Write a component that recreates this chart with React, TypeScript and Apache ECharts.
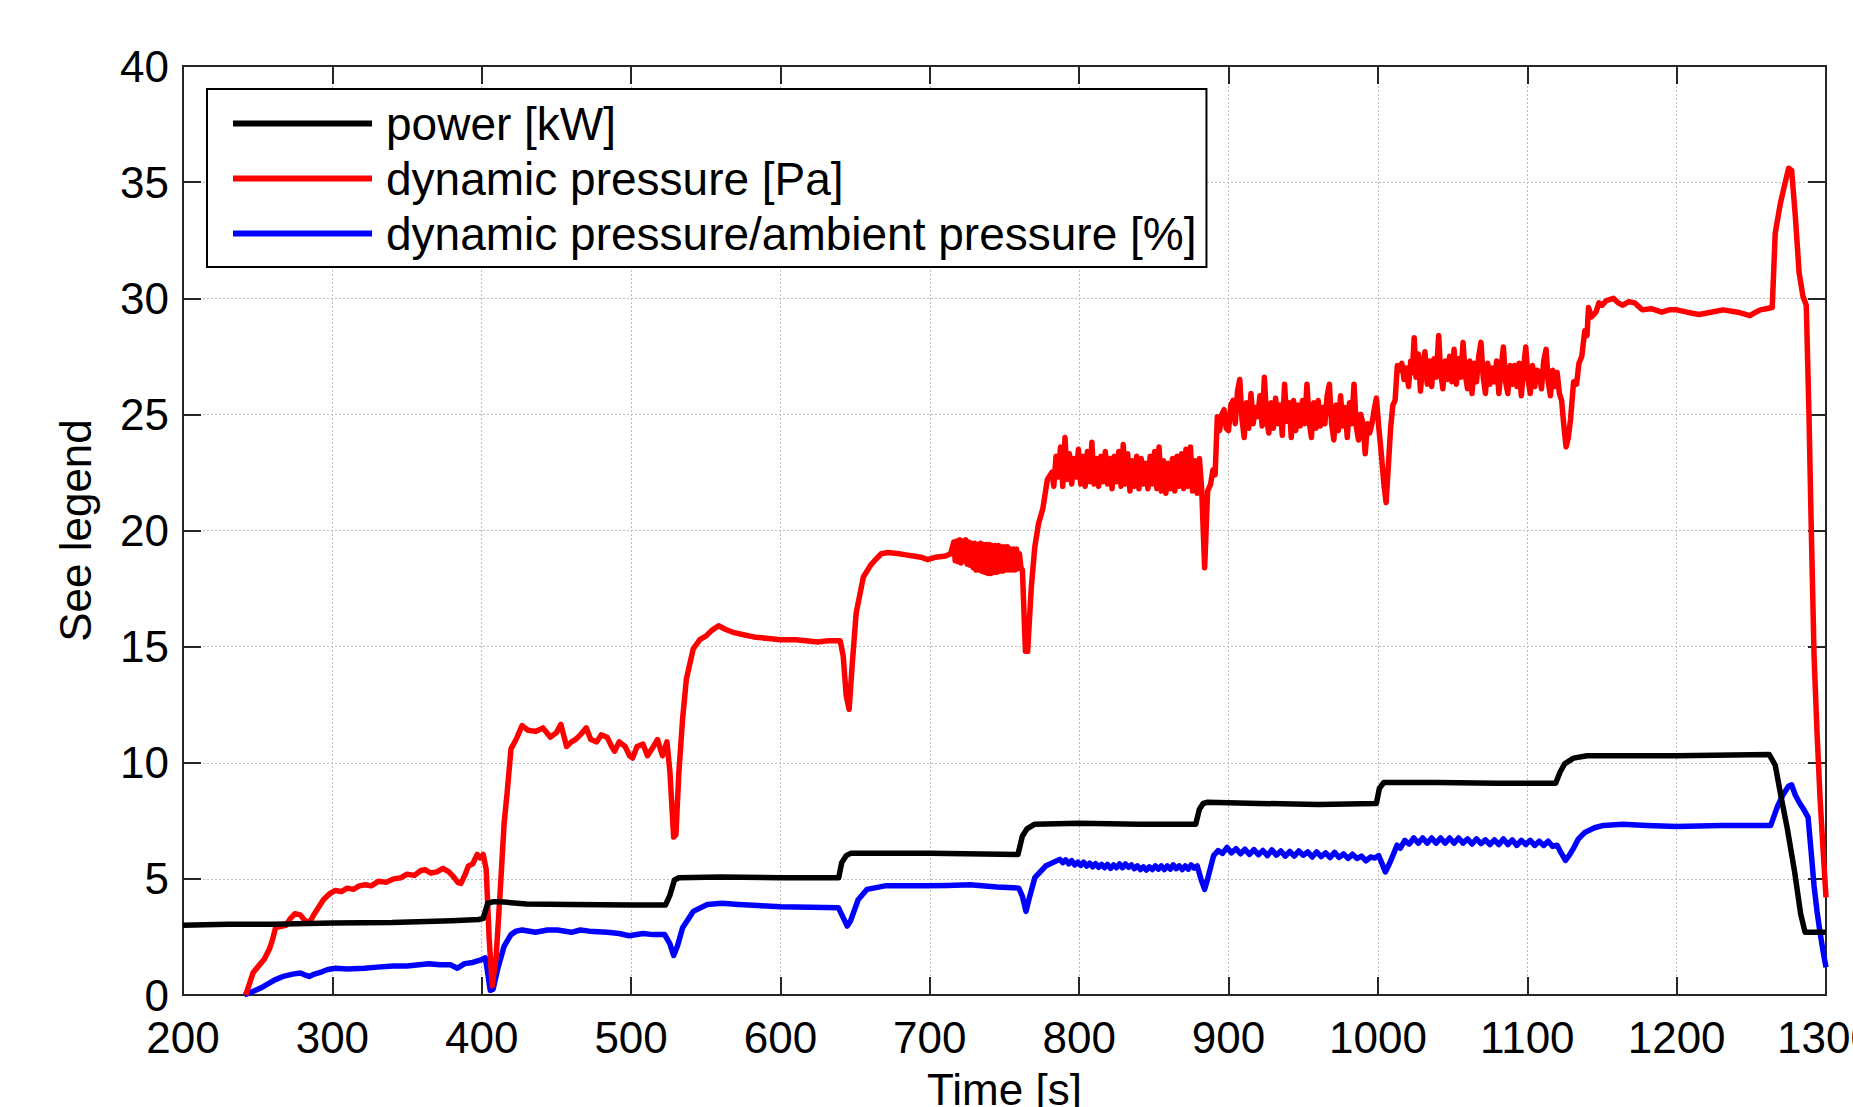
import React, { useEffect, useRef } from "react";
import * as echarts from "echarts";

const seriesNames = [
  "power [kW]",
  "dynamic pressure [Pa]",
  "dynamic pressure/ambient pressure [%]",
];
const seriesColors = ["#000000", "#ff0000", "#0000ff"];

const powerKW: number[][] = [
  [200, 3.0], [230, 3.05], [260, 3.05], [300, 3.1], [340, 3.12], [380, 3.2], [398, 3.25], [401, 3.3],
  [404, 3.95], [408, 4.02], [415, 4.0], [430, 3.92], [460, 3.9], [500, 3.87], [523, 3.87], [526, 4.3],
  [529, 4.95], [532, 5.05], [560, 5.08], [600, 5.05], [639, 5.05], [641, 5.7], [644, 6.0], [647, 6.1],
  [700, 6.1], [759, 6.05], [762, 6.85], [765, 7.15], [770, 7.35], [800, 7.4], [840, 7.35], [878, 7.35],
  [880.5, 8.0], [883, 8.25], [886, 8.3], [920, 8.25], [960, 8.2], [999, 8.25], [1001, 8.9], [1004, 9.15],
  [1040, 9.15], [1080, 9.12], [1119, 9.12], [1122, 9.6], [1125, 9.95], [1131, 10.2], [1140, 10.3],
  [1200, 10.3], [1262, 10.35], [1266, 9.9], [1270, 8.5], [1274, 7.2], [1279, 5.3], [1283, 3.5],
  [1286, 2.7], [1300, 2.7],
];

const dynPressurePa: number[][] = [
  [242, 0], [247, 0.97], [250, 1.2], [254.5, 1.55], [258, 2.0], [260, 2.4], [262, 2.9], [265, 2.95],
  [269, 3.0], [272, 3.3], [275, 3.5], [278.5, 3.45], [281, 3.25], [284.5, 3.1], [288, 3.5], [291, 3.8],
  [294, 4.1], [298, 4.35], [302, 4.5], [306, 4.45], [310, 4.6], [314, 4.55], [318, 4.7], [322, 4.75],
  [326, 4.7], [331, 4.9], [336, 4.85], [341, 5.0], [346, 5.05], [350, 5.2], [355, 5.15], [359, 5.35],
  [362, 5.4], [366, 5.25], [370, 5.3], [374, 5.45], [378, 5.3], [381, 5.1], [384, 4.85], [386, 4.8],
  [389, 5.2], [391, 5.55], [394, 5.65], [397, 6.05], [399, 5.9], [401, 6.05], [403, 5.4], [405, 2.4],
  [407, 0.4], [409.6, 1.6], [412.4, 4.5], [415, 7.4], [417, 8.7], [419.6, 10.6], [423, 11.0], [427, 11.6],
  [431, 11.4], [436, 11.35], [441, 11.5], [446, 11.1], [450, 11.3], [453, 11.65], [456.8, 10.7], [460, 10.9],
  [462.8, 11.0], [466, 11.2], [470, 11.5], [473, 11.0], [477, 10.9], [480, 11.2], [484, 11.1], [487, 10.7],
  [489, 10.5], [492, 10.9], [496, 10.7], [499, 10.3], [501, 10.2], [504, 10.7], [508, 10.8], [511, 10.3],
  [514, 10.6], [517.7, 11.0], [521, 10.3], [524, 10.9], [526, 9.6], [528.5, 6.8], [530, 6.9], [532, 9.6],
  [534.5, 11.9], [537, 13.6], [541.6, 14.9], [546, 15.3], [550, 15.45], [554, 15.7], [558.6, 15.9],
  [563, 15.75], [569, 15.6], [576, 15.5], [583.7, 15.4], [592, 15.35], [600, 15.3], [610, 15.3],
  [617, 15.25], [625, 15.2], [632, 15.25], [640, 15.25], [642, 14.6], [644, 12.9], [646, 12.3], [648, 14.2],
  [650.7, 16.45], [655.5, 18.0], [660.3, 18.5], [663, 18.7], [667.5, 19.0], [672, 19.05], [679.4, 19.0],
  [684, 18.95], [689, 18.9], [694, 18.85], [698.6, 18.75], [704, 18.85], [710.5, 18.9], [714, 19.0],
  [716, 19.5], [717, 18.7], [718, 19.55], [719, 18.65], [720, 19.6], [721, 18.6], [722, 19.55], [723, 18.7],
  [724, 19.6], [725, 18.55], [726, 19.5], [727, 18.5], [728, 19.45], [729, 18.4], [730, 19.45], [731, 18.3],
  [732, 19.4], [733, 18.3], [734, 19.45], [735, 18.25], [736, 19.4], [737, 18.2], [738, 19.4], [739, 18.15],
  [740, 19.4], [741, 18.15], [742, 19.35], [743, 18.2], [744, 19.35], [745, 18.2], [746, 19.35], [747, 18.25],
  [748, 19.3], [749, 18.25], [750, 19.3], [751, 18.3], [752, 19.3], [753, 18.3], [754, 19.2], [755, 18.3],
  [756, 19.2], [757, 18.3], [758, 19.2], [759, 18.35], [760, 19.0], [761, 18.4], [762, 18.3],
  [764, 14.8], [765.5, 14.8], [768, 17.6], [770.3, 19.3], [772.8, 20.3], [775.7, 20.95], [778.7, 22.2],
  [781.7, 22.5],
  [783, 21.9], [784.5, 23.2], [786, 22.3], [787.5, 23.6], [789, 21.9], [790.5, 24.0], [792, 22.2],
  [793.5, 23.3], [795, 22.0], [796.5, 23.1], [798, 22.3], [799.5, 23.5], [801, 22.0], [802.5, 23.2],
  [804, 21.9], [805.5, 23.4], [807, 22.1], [808.5, 23.8], [810, 22.0], [811.5, 23.1], [813, 21.9],
  [814.5, 23.2], [816, 22.1], [817.5, 23.4], [819, 22.0], [820.5, 23.1], [822, 21.8], [823.5, 23.2],
  [825, 22.1], [826.5, 23.4], [828, 21.9], [829.5, 23.7], [831, 22.0], [832.5, 23.3], [834, 21.7],
  [835.5, 23.0], [837, 21.9], [838.5, 23.2], [840, 21.8], [841.5, 23.1], [843, 22.0], [844.5, 22.9],
  [846, 21.8], [847.5, 23.2], [849, 22.0], [850.5, 23.4], [852, 21.8], [853.5, 23.6], [855, 21.7],
  [856.5, 23.0], [858, 21.6], [859.5, 22.9], [861, 21.8], [862.5, 23.1], [864, 21.7], [865.5, 23.2],
  [867, 21.9], [868.5, 23.3], [870, 21.8], [871.5, 23.5], [873, 21.9], [874.5, 23.6], [876, 21.7],
  [877.5, 23.0], [879, 21.6], [880.5, 23.1], [882, 21.8], [884, 18.4], [886, 21.7], [888, 22.0],
  [889.5, 22.6], [891, 22.4], [892.5, 24.9], [894, 24.3], [895.5, 25.0], [897, 25.2], [898.5, 24.4],
  [900, 24.3], [901.5, 25.4], [903, 25.6],
  [904.5, 24.6], [906, 26.0], [907.5, 26.5], [909, 24.8], [910.5, 24.0], [912, 25.5], [913.5, 24.4],
  [915, 25.9], [916.5, 24.6], [918, 25.3], [919.5, 24.9], [921, 25.8], [922.5, 24.5], [924, 26.6],
  [925.5, 24.8], [927, 24.2], [928.5, 25.5], [930, 24.4], [931.5, 25.7], [933, 24.6], [934.5, 25.4],
  [936, 24.1], [937.5, 26.3], [939, 24.7], [940.5, 25.5], [942, 24.0], [943.5, 25.6], [945, 24.3],
  [946.5, 25.4], [948, 24.5], [949.5, 25.6], [951, 24.6], [952.5, 26.3], [954, 24.7], [955.5, 24.0],
  [957, 25.5], [958.5, 24.4], [960, 25.6], [961.5, 24.5], [963, 25.3], [964.5, 24.6], [966, 25.8],
  [967.5, 26.3], [969, 24.6], [970.5, 23.9], [972, 25.4], [973.5, 24.3], [975, 25.8], [976.5, 24.5],
  [978, 25.3], [979.5, 24.0], [981, 25.5], [982.5, 24.6], [984, 26.3], [985.5, 24.5], [987, 23.9],
  [988.5, 25.0], [990, 24.6], [991.5, 23.3], [993, 24.6], [994.5, 24.2], [996, 24.6], [997.5, 25.2],
  [999, 25.7], [1000.5, 24.5], [1002, 23.5], [1004, 22.0], [1005.5, 21.2], [1007, 22.8], [1008.5, 24.4],
  [1010, 25.4], [1011.5, 25.6], [1013, 27.1], [1014.5, 26.9], [1016, 27.2], [1017.5, 26.5], [1019, 27.0],
  [1020.5, 26.2], [1022, 27.3], [1023, 26.8], [1024.3, 28.3],
  [1025.5, 26.6], [1027, 27.6], [1028.5, 26.0], [1030, 27.2], [1031.5, 27.7], [1033, 26.3], [1034.5, 27.3],
  [1036, 26.2], [1037.5, 27.4], [1039, 26.6], [1040.7, 28.4], [1042, 26.8], [1043.5, 26.1], [1045, 27.3],
  [1046.5, 26.5], [1048, 27.5], [1049.5, 26.4], [1051, 27.8], [1052.5, 26.3], [1054, 27.4], [1055.5, 26.6],
  [1057, 28.1], [1058.5, 26.7], [1060, 26.1], [1061.5, 27.3], [1063, 25.9], [1064.5, 27.2], [1066, 26.4],
  [1067.5, 27.5], [1069, 28.1], [1070.5, 26.6], [1072, 25.9], [1073.5, 27.2], [1075, 26.3], [1076.5, 27.0],
  [1078, 26.4], [1079.5, 27.3], [1081, 25.9], [1082.5, 27.0], [1084, 27.9], [1085.5, 26.4], [1087, 25.9],
  [1088.5, 27.1], [1090, 26.3], [1091.5, 27.1], [1093, 26.2], [1094.5, 27.2], [1096, 25.8], [1097.5, 27.0],
  [1099, 27.9], [1100.5, 26.5], [1102, 25.9], [1103.5, 27.1], [1105, 26.2], [1106.5, 26.9], [1108, 26.8],
  [1109.5, 26.1], [1111, 27.3], [1112.6, 27.8], [1114, 26.4], [1115.5, 25.8], [1117, 26.9], [1118.5, 26.2],
  [1120, 26.8], [1121.5, 25.9], [1123, 25.6], [1124.5, 24.5], [1126, 23.6], [1127.5, 24.0], [1129, 24.8],
  [1131, 26.4], [1133, 26.3], [1134.6, 27.2], [1136.5, 27.5], [1138.5, 28.6], [1140, 28.4], [1141, 29.6],
  [1143, 29.2], [1146, 29.4], [1148, 29.8], [1150, 29.7], [1153, 29.9], [1157.7, 30.0], [1161, 29.8],
  [1164, 29.7], [1168, 29.85], [1172, 29.8], [1177, 29.5], [1183, 29.55], [1190, 29.4], [1195, 29.5],
  [1200, 29.5], [1207, 29.4], [1215, 29.3], [1223, 29.4], [1231, 29.5], [1241, 29.4], [1249, 29.25],
  [1253, 29.4], [1256, 29.5], [1260, 29.55], [1264, 29.6], [1266, 32.8], [1269.5, 34.1], [1272, 34.8],
  [1275, 35.6], [1277, 35.5], [1279.5, 33.5], [1282, 31.1], [1284.5, 30.1], [1286.8, 29.7], [1288.6, 25.0],
  [1290, 20.5], [1292, 14.6], [1294, 11.3], [1296, 8.5], [1298, 6.3], [1300, 4.2],
];

const pressureRatioPct: number[][] = [
  [241, 0], [245, 0.1], [252, 0.3], [256, 0.45], [261.5, 0.65], [267, 0.8], [273.5, 0.9], [278.5, 0.95],
  [281, 0.88], [284.5, 0.8], [288, 0.9], [293, 1.0], [297, 1.1], [302, 1.15], [310, 1.12], [321.5, 1.15],
  [330, 1.2], [340.7, 1.25], [350, 1.25], [364.6, 1.35], [372, 1.3], [379, 1.3], [383.7, 1.15],
  [388.5, 1.35], [394, 1.4], [399, 1.5], [402.4, 1.6], [404, 0.95], [405.7, 0.2], [407.6, 0.25],
  [411, 1.2], [415, 2.1], [419.6, 2.6], [423, 2.75], [427, 2.8], [436, 2.7], [444, 2.8], [450.7, 2.8],
  [460, 2.7], [466, 2.8], [472, 2.75], [484, 2.7], [492, 2.65], [498.6, 2.55], [508, 2.65], [515, 2.6],
  [522.5, 2.6], [526, 2.2], [528.5, 1.7], [531, 2.1], [534.5, 2.9], [541.6, 3.6], [551, 3.9],
  [560.8, 3.95], [572, 3.9], [585, 3.85], [600, 3.8], [620, 3.78], [638.8, 3.76], [642, 3.33],
  [644.7, 2.97], [647, 3.2], [652, 4.1], [658, 4.55], [670, 4.7], [685, 4.7], [698.6, 4.7], [712, 4.72],
  [727, 4.75], [745, 4.65], [759.6, 4.6], [762, 4.25], [764.4, 3.6], [766.7, 4.2], [770.3, 5.05],
  [777.5, 5.55],
  [787, 5.84], [789, 5.7], [791, 5.82], [793, 5.65], [795, 5.78], [797, 5.6], [799, 5.72], [801, 5.58],
  [803, 5.72], [805, 5.55], [807, 5.68], [809, 5.52], [811, 5.66], [813, 5.5], [815, 5.62], [817, 5.48],
  [819, 5.62], [821, 5.45], [823, 5.6], [825, 5.48], [827, 5.64], [829, 5.48], [831, 5.64], [833, 5.5],
  [835, 5.6], [837, 5.44], [839, 5.56], [841, 5.4], [843, 5.52], [845, 5.38], [847, 5.52], [849, 5.4],
  [851, 5.56], [853, 5.42], [855, 5.56], [857, 5.4], [859, 5.56], [861, 5.42], [863, 5.6], [865, 5.44],
  [867, 5.56], [869, 5.4], [871, 5.56], [873, 5.42], [875, 5.6], [877, 5.46], [879, 5.56],
  [881.6, 4.98], [884, 4.55], [886, 5.0],
  [890, 6.0], [893, 6.22], [896, 6.1], [899, 6.35], [902, 6.12], [905, 6.3], [908, 6.08], [911, 6.28],
  [914, 6.05], [917, 6.26], [920, 6.04], [923, 6.22], [926, 6.0], [929, 6.25], [932, 6.02], [935, 6.2],
  [938, 5.98], [941, 6.18], [944, 5.98], [947, 6.2], [950, 6.02], [953, 6.16], [956, 5.94], [959, 6.16],
  [962, 5.96], [965, 6.12], [968, 5.92], [971, 6.14], [974, 5.92], [977, 6.08], [980, 5.88], [983, 6.06],
  [986, 5.88], [989, 5.98], [992, 5.78], [995, 5.94], [998, 5.9], [1000.5, 6.0],
  [1002.5, 5.7], [1005, 5.3], [1007.7, 5.65], [1010, 6.0], [1012.8, 6.45], [1015, 6.32], [1018, 6.66],
  [1021, 6.5], [1024, 6.76], [1027, 6.54], [1030, 6.76], [1033, 6.54], [1036, 6.76], [1039, 6.54], [1042, 6.76],
  [1045, 6.54], [1048, 6.76], [1051, 6.54], [1054, 6.76], [1057, 6.54], [1060, 6.72], [1063, 6.5],
  [1066, 6.72], [1069, 6.52], [1072, 6.68], [1075, 6.48], [1078, 6.68], [1081, 6.48], [1084, 6.72],
  [1087, 6.48], [1090, 6.68], [1093, 6.44], [1096, 6.66], [1099, 6.48], [1102, 6.66], [1105, 6.44],
  [1108, 6.62], [1111, 6.44], [1114, 6.62], [1117, 6.4], [1120, 6.45], [1122, 6.2], [1125.6, 5.8],
  [1128, 6.0], [1130.8, 6.3], [1134, 6.7], [1138.5, 7.0], [1145, 7.2], [1151, 7.3], [1164, 7.35],
  [1180, 7.3], [1200, 7.25], [1230, 7.3], [1261.5, 7.3], [1263, 7.3], [1267.4, 8.1], [1271, 8.6],
  [1275, 9.0], [1277, 9.05], [1279.5, 8.6], [1282, 8.3], [1285, 8.0], [1288, 7.65], [1290, 6.2],
  [1292, 4.7], [1294, 3.6], [1296, 2.7], [1298, 1.9], [1300, 1.2],
];

const xRange = { min: 200, max: 1300, step: 100 };
const yRange = { min: 0, max: 40, step: 5 };

const FONT = "'Liberation Sans', Arial, Helvetica, sans-serif";
const AXIS_COLOR = "#262626";

export default function App() {
  const ref = useRef<HTMLDivElement>(null);

  useEffect(() => {
    if (!ref.current) return;
    const chart = echarts.init(ref.current, undefined, { renderer: "svg" });

    const tickCommon = {
      inside: true,
      length: 18,
      lineStyle: { color: AXIS_COLOR, width: 2 },
    };
    const lineCommon = { show: true, onZero: false, lineStyle: { color: AXIS_COLOR, width: 2 } };
    const gridLine = {
      show: true,
      lineStyle: { color: "#bdbdbd", width: 1, type: [2, 2] as any },
    };
    const plain = (v: number) => String(v);

    const dataSets = [powerKW, dynPressurePa, pressureRatioPct];

    chart.setOption({
      animation: false,
      backgroundColor: "#ffffff",
      textStyle: { fontFamily: FONT },
      grid: {
        left: 183,
        right: 27,
        top: 66,
        bottom: 112,
        containLabel: false,
        outerBoundsMode: "none",
      },
      xAxis: [
        {
          type: "value",
          position: "bottom",
          min: xRange.min,
          max: xRange.max,
          interval: xRange.step,
          axisLine: lineCommon,
          axisTick: tickCommon,
          axisLabel: {
            fontSize: 44,
            color: "#000",
            margin: 20,
            fontFamily: FONT,
            formatter: plain,
            showMaxLabel: true,
            showMinLabel: true,
            hideOverlap: false,
          },
          splitLine: gridLine,
          name: "Time [s]",
          nameLocation: "middle",
          nameGap: 72,
          nameTextStyle: { fontSize: 44, color: "#000", fontFamily: FONT },
        },
        {
          type: "value",
          position: "top",
          min: xRange.min,
          max: xRange.max,
          interval: xRange.step,
          axisLine: lineCommon,
          axisTick: tickCommon,
          axisLabel: { show: false },
          splitLine: { show: false },
        },
      ],
      yAxis: [
        {
          type: "value",
          position: "left",
          min: yRange.min,
          max: yRange.max,
          interval: yRange.step,
          axisLine: lineCommon,
          axisTick: tickCommon,
          axisLabel: { fontSize: 44, color: "#000", margin: 14, fontFamily: FONT, formatter: plain },
          splitLine: gridLine,
          name: "See legend",
          nameLocation: "middle",
          nameGap: 86,
          nameRotate: 90,
          nameTextStyle: { fontSize: 44, color: "#000", fontFamily: FONT },
        },
        {
          type: "value",
          position: "right",
          min: yRange.min,
          max: yRange.max,
          interval: yRange.step,
          axisLine: lineCommon,
          axisTick: tickCommon,
          axisLabel: { show: false },
          splitLine: { show: false },
        },
      ],
      legend: {
        orient: "vertical",
        left: 207,
        top: 89,
        padding: [7, 10, 6, 26],
        itemGap: 0,
        itemWidth: 139,
        itemHeight: 6,
        icon: "rect",
        borderColor: "#000",
        borderWidth: 2,
        backgroundColor: "#ffffff",
        textStyle: { fontSize: 46, color: "#000", lineHeight: 55, fontFamily: FONT, padding: [0, 0, 0, 9] },
        data: seriesNames,
        selectedMode: false,
      },
      series: seriesNames.map((name, i) => ({
        name,
        type: "line",
        xAxisIndex: 0,
        yAxisIndex: 0,
        data: dataSets[i],
        showSymbol: false,
        symbol: "none",
        color: seriesColors[i],
        itemStyle: { color: seriesColors[i] },
        lineStyle: { color: seriesColors[i], width: 5.5, join: "round" },
        z: 3 - i,
      })),
    });

    return () => chart.dispose();
  }, []);

  return (
    <div
      ref={ref}
      style={{ position: "absolute", left: 0, top: 0, width: 1853, height: 1107, background: "#fff" }}
    />
  );
}
